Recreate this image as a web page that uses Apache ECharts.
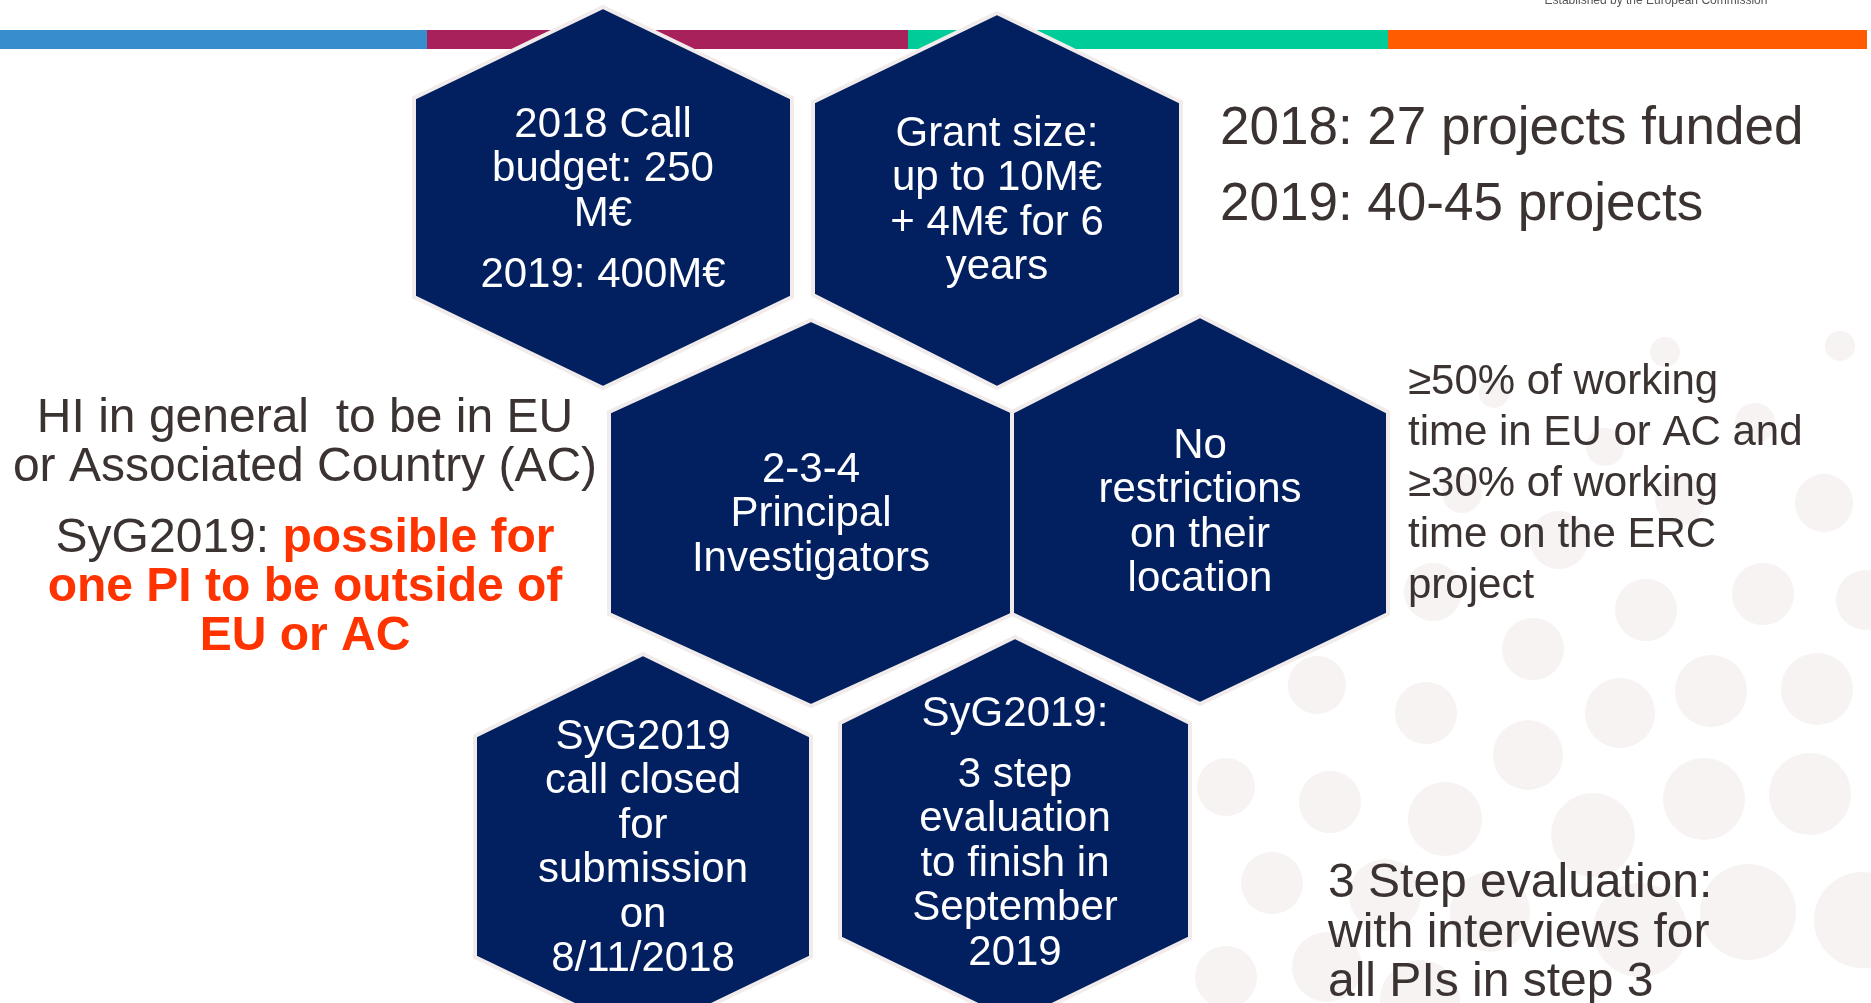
<!DOCTYPE html>
<html>
<head>
<meta charset="utf-8">
<title>ERC Synergy Grants</title>
<script src="https://cdn.jsdelivr.net/npm/echarts@6/dist/echarts.min.js"></script>
<style>
  html, body { margin: 0; padding: 0; background: #fff; }
  #slide { width: 1871px; height: 1003px; }
</style>
</head>
<body>
<div id="slide"></div>
<script>
// slide units: 1871 x 1003, y grows downward
const stripeStart = [0, 427, 908, 1388];
const stripeEnd = [427, 908, 1388, 1867];
const stripeColors = ['#388ECC', '#A8215A', '#00CC99', '#FF5B00'];

const hexCenterX = [603, 997, 811, 1200, 643, 1015];
const hexHalfWidth = [189, 184, 202, 188, 168, 175];
const hexTop = [7, 13, 320, 316, 654, 637];
const hexShoulder = [98, 102, 412, 412, 736, 723];
const hexHip = [297, 295, 614, 614, 957, 938];
const hexBottom = [388, 388, 706, 704, 1038, 1023];
const hexFirstLine = [125, 134, 470, 446, 737, 714];
const hexLines = [
  ['2018 Call', 'budget: 250', 'M€', '', '2019: 400M€'],
  ['Grant size:', 'up to 10M€', '+ 4M€ for 6', 'years'],
  ['2-3-4', 'Principal', 'Investigators'],
  ['No', 'restrictions', 'on their', 'location'],
  ['SyG2019', 'call closed', 'for', 'submission', 'on', '8/11/2018'],
  ['SyG2019:', '', '3 step', 'evaluation', 'to finish in', 'September', '2019']
];

// background dots: [x, y, r]
const dots = [
  [1840, 346, 15], [1665, 352, 15], [1494, 393, 15], [1605, 447, 19], [1755, 423, 20],
  [1824, 503, 29], [1680, 500, 25], [1462, 493, 20], [1559, 540, 29], [1433, 592, 29],
  [1646, 610, 31], [1763, 594, 31], [1866, 600, 30], [1533, 649, 31], [1317, 685, 29],
  [1426, 713, 31], [1620, 713, 35], [1711, 691, 36], [1817, 689, 36], [1226, 787, 29],
  [1330, 802, 31], [1528, 755, 35], [1445, 819, 37], [1593, 835, 42], [1704, 799, 41],
  [1810, 794, 41], [1272, 883, 31], [1385, 895, 36], [1490, 912, 40], [1640, 930, 47],
  [1748, 912, 48], [1862, 920, 48], [1226, 977, 31], [1327, 967, 35], [1420, 1000, 40]
];

const noteBlocks = [
  'HI in general  to be in EU\nor Associated Country (AC)',
  '{d|SyG2019: }{r|possible for}\n{r|one PI to be outside of}\n{r|EU or AC}',
  '2018: 27 projects funded\n2019: 40-45 projects',
  '≥50% of working\ntime in EU or AC and\n≥30% of working\ntime on the ERC\nproject',
  '3 Step evaluation:\nwith interviews for\nall PIs in step 3',
  'Established by the European Commission'
];
const noteAnchor = [[305, 443.5], [305, 588], [1220, 167], [1408, 484], [1328, 933.5], [1656, 8]];
const noteAlign = ['center', 'center', 'left', 'left', 'left', 'center'];
const noteVAlign = ['middle', 'middle', 'middle', 'middle', 'middle', 'bottom'];
const noteSize = [48, 48, 53, 42, 48, 12];
const noteLineHeight = [49, 49, 76, 51, 49.5, 14];

const FONT = '"Liberation Sans", Arial, sans-serif';
const NAVY = '#022060';
const EDGE = '#F1ECEB';
const INK = '#3B3331';
const RED = '#FF3300';

const chart = echarts.init(document.getElementById('slide'));

chart.setOption({
  animation: false,
  backgroundColor: '#fff',
  grid: { left: 0, right: 0, top: 0, bottom: 0 },
  xAxis: { type: 'value', min: 0, max: 1871, show: false },
  yAxis: { type: 'value', min: 0, max: 1003, inverse: true, show: false },
  series: [
    {
      type: 'custom',
      z: 1,
      data: stripeStart.map((x, i) => [x, stripeEnd[i]]),
      renderItem: (params, api) => {
        const i = params.dataIndex;
        const a = api.coord([stripeStart[i], 30]);
        const b = api.coord([stripeEnd[i], 49]);
        return {
          type: 'rect',
          shape: { x: a[0], y: a[1], width: b[0] - a[0], height: b[1] - a[1] },
          style: { fill: stripeColors[i] }
        };
      }
    },
    {
      type: 'custom',
      z: 2,
      data: dots,
      renderItem: (params, api) => {
        const d = dots[params.dataIndex];
        const c = api.coord([d[0], d[1]]);
        const r = api.size([d[2], 0])[0];
        return { type: 'circle', shape: { cx: c[0], cy: c[1], r }, style: { fill: '#F6F3F2' } };
      }
    },
    {
      type: 'custom',
      z: 3,
      data: hexCenterX.map((x, i) => [x, hexTop[i]]),
      renderItem: (params, api) => {
        const i = params.dataIndex;
        const cx = hexCenterX[i], hw = hexHalfWidth[i];
        const pts = [
          [cx, hexTop[i]], [cx + hw, hexShoulder[i]], [cx + hw, hexHip[i]],
          [cx, hexBottom[i]], [cx - hw, hexHip[i]], [cx - hw, hexShoulder[i]]
        ].map(p => api.coord(p));
        const children = [{
          type: 'polygon',
          shape: { points: pts },
          style: { fill: NAVY, stroke: EDGE, lineWidth: 4 }
        }];
        let y = hexFirstLine[i];
        hexLines[i].forEach(line => {
          if (line === '') { y += 16.5; return; }
          const p = api.coord([cx, y]);
          children.push({
            type: 'text',
            x: p[0], y: p[1],
            style: {
              text: line, fill: '#fff', font: '42px ' + FONT,
              align: 'center', verticalAlign: 'middle'
            }
          });
          y += 44.5;
        });
        return { type: 'group', children };
      }
    },
    {
      type: 'custom',
      z: 4,
      data: noteAnchor,
      renderItem: (params, api) => {
        const i = params.dataIndex;
        const p = api.coord(noteAnchor[i]);
        const size = noteSize[i], lh = noteLineHeight[i];
        return {
          type: 'text',
          x: p[0], y: p[1],
          style: {
            text: noteBlocks[i],
            fill: i === 5 ? '#555' : INK,
            fontSize: size, fontFamily: FONT, lineHeight: lh,
            align: noteAlign[i], verticalAlign: noteVAlign[i],
            rich: {
              d: { fill: INK, fontSize: size, fontFamily: FONT, lineHeight: lh },
              r: { fill: RED, fontSize: size, fontFamily: FONT, fontWeight: 'bold', lineHeight: lh }
            }
          }
        };
      }
    }
  ]
});
</script>
</body>
</html>
